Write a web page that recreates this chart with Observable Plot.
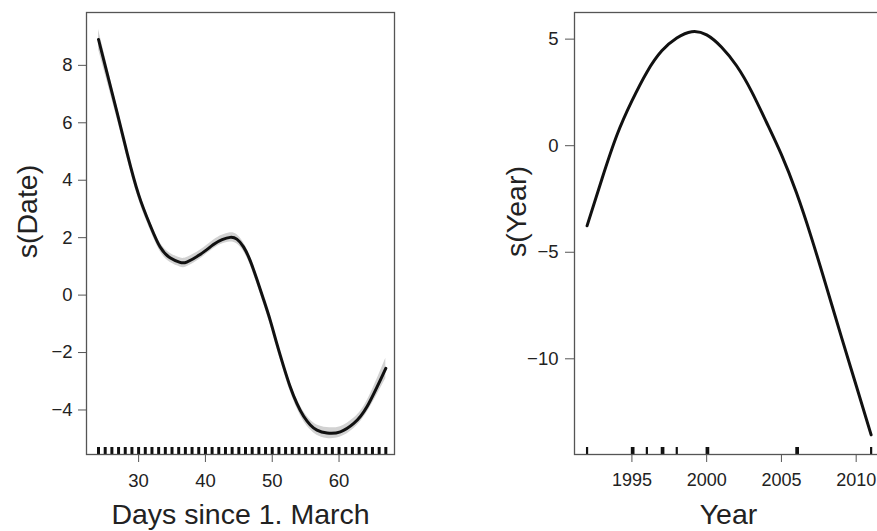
<!DOCTYPE html>
<html>
<head>
<meta charset="utf-8">
<script src="https://cdn.jsdelivr.net/npm/d3@7"></script>
<script src="https://cdn.jsdelivr.net/npm/@observablehq/plot@0.6"></script>
<style>
  html, body { margin: 0; padding: 0; background: #fff; overflow: hidden; }
  #wrap { display: flex; width: 877px; height: 531px; overflow: hidden; }
  #left { flex: none; width: 440px; }
  #right { flex: none; width: 460px; }
  svg { display: block; }
</style>
</head>
<body>
<div id="wrap"><div id="left"></div><div id="right"></div></div>
<script>
// ---- Left panel: s(Date) ----
const dateDays = [24.0, 26.8, 28.3, 30.0, 31.75, 33.2, 34.7, 36.2, 37.2, 39.2, 41.2, 42.5, 43.7, 44.7, 45.7, 46.7, 47.7, 48.7, 49.7, 50.7, 51.7, 52.7, 53.7, 54.7, 55.7, 56.7, 58.2, 60.2, 62.2, 64.2, 67.0];
const dateFit  = [8.9, 6.34, 4.93, 3.5, 2.42, 1.68, 1.3, 1.14, 1.15, 1.41, 1.76, 1.93, 2.01, 1.95, 1.68, 1.2, 0.55, -0.15, -0.88, -1.7, -2.48, -3.2, -3.78, -4.22, -4.52, -4.7, -4.8, -4.76, -4.47, -3.88, -2.55];
const dateSE   = [0.35, 0.22, 0.18, 0.16, 0.15, 0.15, 0.16, 0.16, 0.16, 0.15, 0.15, 0.15, 0.16, 0.16, 0.15, 0.15, 0.15, 0.15, 0.15, 0.15, 0.15, 0.16, 0.16, 0.17, 0.17, 0.18, 0.19, 0.18, 0.18, 0.2, 0.35];
const rugDays = d3.range(24, 68);
const dateTicksX = [30, 40, 50, 60];
const dateTicksY = [-4, -2, 0, 2, 4, 6, 8];

// ---- Right panel: s(Year) ----
const yearX   = [1992, 1993, 1994, 1995, 1996, 1997, 1998, 1999, 2000, 2001, 2002, 2003, 2004, 2005, 2006, 2007, 2008, 2009, 2010, 2011];
const yearFit = [-3.76, -1.55, 0.5, 2.1, 3.45, 4.45, 5.05, 5.35, 5.2, 4.62, 3.75, 2.55, 1.1, -0.42, -2.2, -4.3, -6.6, -8.95, -11.25, -13.57];
const rugYears = [1992, 1995, 1995.1, 1996, 1997, 1997.1, 1998, 2000, 2000.1, 2006, 2006.1, 2011];
const yearTicksX = [1995, 2000, 2005, 2010];
const yearTicksY = [-10, -5, 0, 5];

const dateData = dateDays.map((d, i) => ({x: d, y: dateFit[i], lo: dateFit[i] - dateSE[i], hi: dateFit[i] + dateSE[i]}));
const yearData = yearX.map((d, i) => ({x: d, y: yearFit[i]}));

const FONT = "'Liberation Sans', Arial, Helvetica, sans-serif";
const fmt = d3.format("d");
const MT = 12, MB = 77, H = 531;
const frameH = H - MT - MB;
const TICKFS = 18.5, TITLEFS = 28.5;

const left = Plot.plot({
  width: 440, height: H,
  marginLeft: 86, marginRight: 46, marginTop: MT, marginBottom: MB,
  style: {fontFamily: FONT, background: "#fff", color: "#222"},
  x: {domain: [22.2, 68.3]},
  y: {domain: [-5.55, 9.84]},
  marks: [
    Plot.areaY(dateData, {x: "x", y1: "lo", y2: "hi", fill: "#d2d2d2", curve: "natural"}),
    Plot.line(dateData, {x: "x", y: "y", stroke: "#111", strokeWidth: 3, curve: "natural"}),
    Plot.tickX(rugDays, {x: d => d, stroke: "#111", strokeWidth: 3, insetTop: frameH - 7}),
    Plot.frame({stroke: "#555", strokeWidth: 1.3}),
    Plot.axisX({ticks: dateTicksX, tickFormat: fmt, tickSize: 8, tickPadding: 11, fontSize: TICKFS, label: null, color: "#222", stroke: "#555"}),
    Plot.axisY({ticks: dateTicksY, tickFormat: fmt, tickSize: 8, tickPadding: 6, fontSize: TICKFS, label: null, color: "#222", stroke: "#555"}),
    Plot.text(["Days since 1. March"], {frameAnchor: "bottom", textAnchor: "middle", dy: 69, lineAnchor: "bottom", fontSize: TITLEFS, fill: "#222"}),
    Plot.text(["s(Date)"], {frameAnchor: "left", textAnchor: "middle", lineAnchor: "middle", dx: -59, dy: -22, rotate: -90, fontSize: TITLEFS, fill: "#222"})
  ]
});
document.getElementById("left").appendChild(left);

const right = Plot.plot({
  width: 460, height: H,
  marginLeft: 134, marginRight: 18, marginTop: MT, marginBottom: MB,
  style: {fontFamily: FONT, background: "#fff", color: "#222"},
  x: {domain: [1991.16, 2011.76]},
  y: {domain: [-14.49, 6.25]},
  marks: [
    Plot.line(yearData, {x: "x", y: "y", stroke: "#111", strokeWidth: 3, curve: "natural"}),
    Plot.tickX(rugYears, {x: d => d, stroke: "#111", strokeWidth: 2.2, insetTop: frameH - 7}),
    Plot.frame({stroke: "#555", strokeWidth: 1.3}),
    Plot.axisX({ticks: yearTicksX, tickFormat: fmt, tickSize: 8, tickPadding: 11, fontSize: 18, label: null, color: "#222", stroke: "#555"}),
    Plot.axisY({ticks: yearTicksY, tickFormat: fmt, tickSize: 9, tickPadding: 7, fontSize: TICKFS, label: null, color: "#222", stroke: "#555"}),
    Plot.text(["Year"], {frameAnchor: "bottom", textAnchor: "middle", dy: 69, lineAnchor: "bottom", fontSize: TITLEFS, fill: "#222"}),
    Plot.text(["s(Year)"], {frameAnchor: "left", textAnchor: "middle", lineAnchor: "middle", dx: -57.6, dy: -22, rotate: -90, fontSize: TITLEFS, fill: "#222"})
  ]
});
document.getElementById("right").appendChild(right);
</script>
</body>
</html>
